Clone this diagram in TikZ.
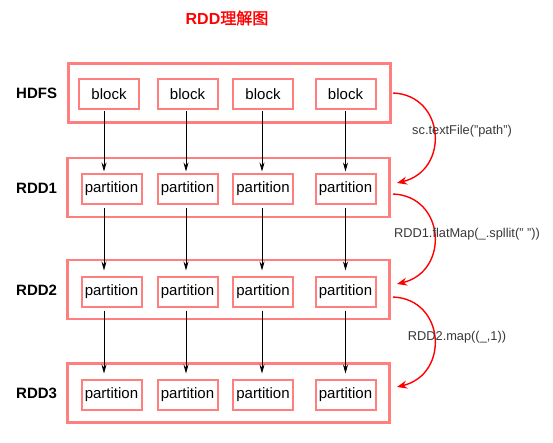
\documentclass[tikz,border=0pt]{standalone}
\usepackage{fontspec}
\setmainfont{Liberation Sans}
\newfontfamily\cjk[AutoFakeBold=1.5]{Noto Sans CJK SC}
\usetikzlibrary{arrows.meta}
\definecolor{boxred}{HTML}{FF7F7F}
\definecolor{labgray}{HTML}{383838}
\tikzset{
  outerbox/.style={draw=boxred, line width=2.5pt, minimum width=322pt, minimum height=59pt, inner sep=0pt},
  innerbox/.style={draw=boxred, line width=2pt, minimum width=60pt, minimum height=30pt, inner sep=0pt, font=\fontsize{15}{18}\selectfont},
  rowlabel/.style={anchor=west, font=\fontsize{15}{18}\selectfont\bfseries, inner sep=0pt},
  flow/.style={draw=black, line width=0.8pt, -{Stealth[length=9pt,width=5pt]}, shorten >=1.5pt, shorten <=1pt},
  redflow/.style={draw=red, line width=1.4pt, -{Stealth[length=10pt,width=8pt]}},
  oplabel/.style={text=labgray, font=\fontsize{12.8}{15}\selectfont, inner sep=0pt}
}
\begin{document}
\begin{tikzpicture}[x=1pt,y=-1pt]
\useasboundingbox (0,0) rectangle (553,442);
% title
\node (title) at (227,18) {\color{red}\fontsize{16}{19}\selectfont\bfseries RDD{\cjk\bfseries 理解图}};
% outer boxes
\node[outerbox] (hdfs) at (229.5,93) {};
\node[outerbox] (rdd1) at (228.5,187.5) {};
\node[outerbox] (rdd2) at (228.5,289.5) {};
\node[outerbox] (rdd3) at (228.5,393) {};
% row labels
\node[rowlabel] (lhdfs) at (16,93) {HDFS};
\node[rowlabel] (lrdd1) at (16,188) {RDD1};
\node[rowlabel] (lrdd2) at (16,290) {RDD2};
\node[rowlabel] (lrdd3) at (16,393) {RDD3};
% blocks
\node[innerbox] (b1) at (109,94) {block};
\node[innerbox] (b2) at (187.5,94) {block};
\node[innerbox] (b3) at (263,94) {block};
\node[innerbox] (b4) at (345.5,94) {block};
% partitions
\foreach \r/\y in {1/189, 2/291.5, 3/394.5}{
  \node[innerbox] (p\r1) at (111.5,\y) {partition};
  \node[innerbox] (p\r2) at (187.5,\y) {partition};
  \node[innerbox] (p\r3) at (263,\y) {partition};
  \node[innerbox] (p\r4) at (345.5,\y) {partition};
}
% column coordinates
\coordinate (c1) at (104,0);
\coordinate (c2) at (186,0);
\coordinate (c3) at (262,0);
\coordinate (c4) at (345.5,0);
% arrows
\foreach \c in {1,2,3,4}{
  \draw[flow] (b\c.south -| c\c) -- (p1\c.north -| c\c);
  \draw[flow, shorten >=5pt, shorten <=3pt] (p1\c.south -| c\c) -- (p2\c.north -| c\c);
  \draw[flow, shorten >=5pt, shorten <=3pt] (p2\c.south -| c\c) -- (p3\c.north -| c\c);
}
% red curved arrows
\coordinate (s1) at (393,93);
\coordinate (e1) at (397,183);
\coordinate (s2) at (393,194);
\coordinate (e2) at (397,284);
\coordinate (s3) at (393,297);
\coordinate (e3) at (397,387);
\draw[redflow] (s1) .. controls (445,95) and (450,170) .. (e1);
\draw[redflow] (s2) .. controls (445,196) and (450,271) .. (e2);
\draw[redflow] (s3) .. controls (445,299) and (450,374) .. (e3);
% labels
\node[oplabel] (op1) at (462,131) {sc.textFile("path")};
\node[oplabel] (op2) at (467,234) {RDD1.flatMap(\_.spllit(" "))};
\node[oplabel] (op3) at (457,337) {RDD2.map((\_,1))};
\end{tikzpicture}
\end{document}
